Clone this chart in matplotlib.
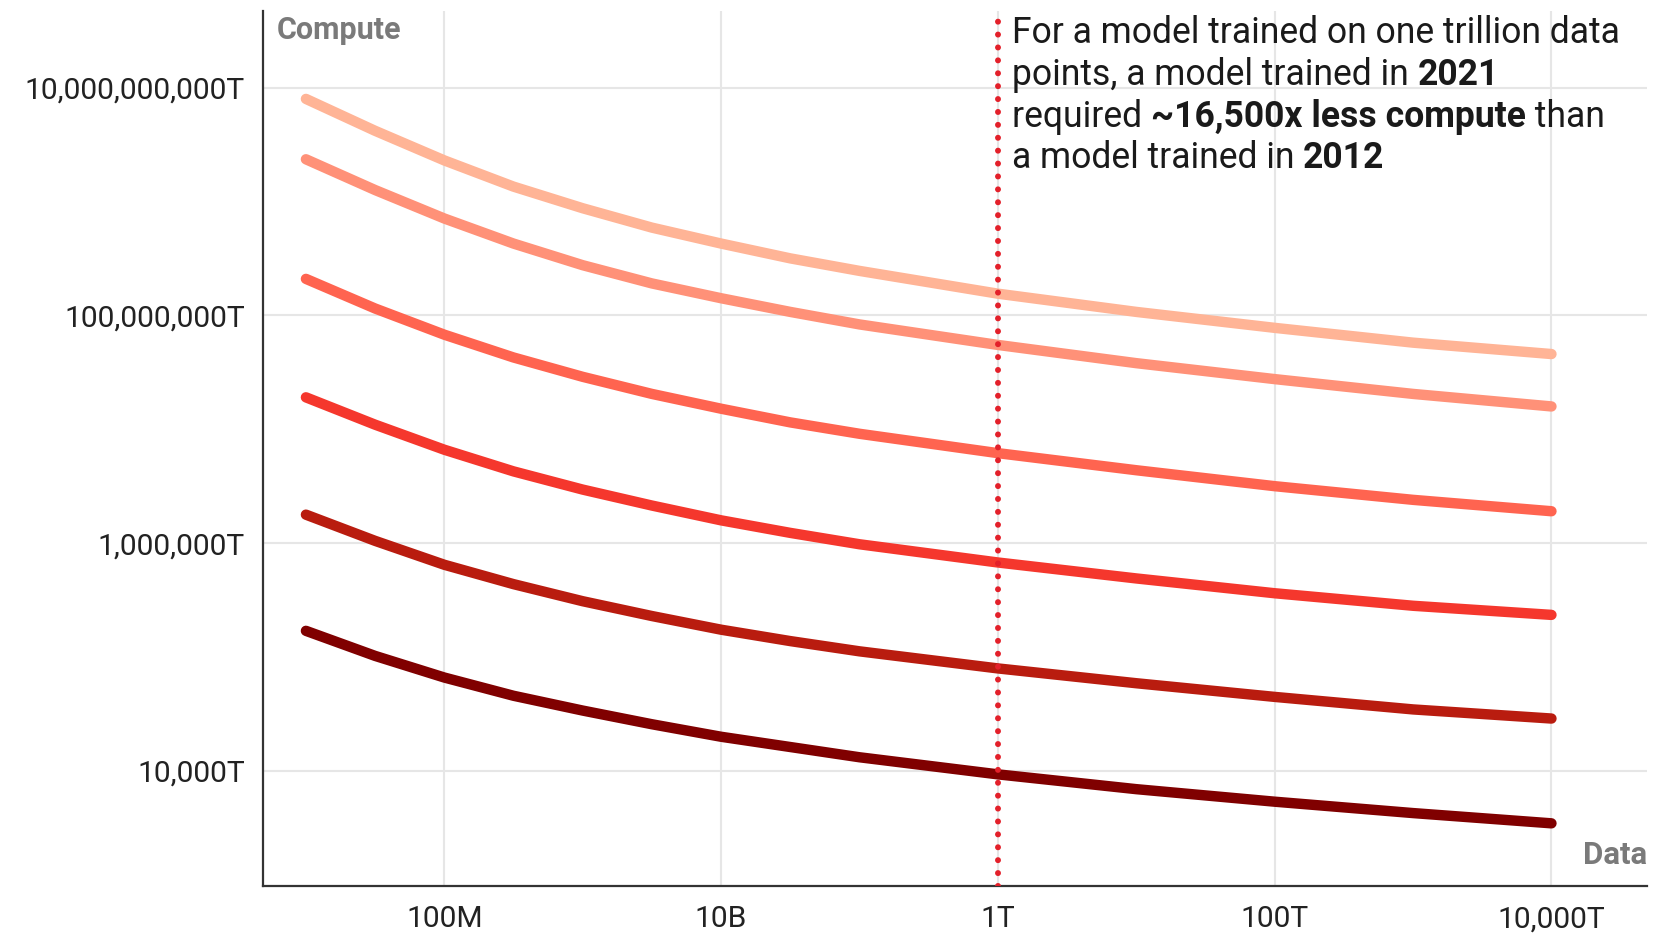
import numpy as np
import matplotlib.pyplot as plt
from matplotlib.transforms import IdentityTransform

plt.rcParams['font.family'] = ['Roboto', 'DejaVu Sans']

# data points on the x axis (one trillion = 1T = 1e12)
data_points = [1e7, 3.16e7, 1e8, 3.16e8, 1e9, 3.16e9, 1e10, 3.16e10, 1e11,
               1e12, 1e13, 1e14, 1e15, 1e16]

# compute needed, log10 of the value in "T" units
# top curve = oldest model (2012), bottom curve = newest (2021)
log_compute_1 = [9.90, 9.62, 9.36, 9.13, 8.94, 8.77, 8.63, 8.50, 8.39, 8.19, 8.03, 7.89, 7.76, 7.66]
log_compute_2 = [9.37, 9.10, 8.85, 8.63, 8.44, 8.28, 8.15, 8.03, 7.92, 7.74, 7.58, 7.44, 7.31, 7.20]
log_compute_3 = [8.32, 8.06, 7.83, 7.63, 7.46, 7.31, 7.18, 7.06, 6.96, 6.79, 6.64, 6.50, 6.38, 6.28]
log_compute_4 = [7.28, 7.04, 6.82, 6.63, 6.47, 6.33, 6.20, 6.09, 5.99, 5.83, 5.69, 5.56, 5.45, 5.37]
log_compute_5 = [6.25, 6.02, 5.81, 5.64, 5.49, 5.36, 5.24, 5.14, 5.05, 4.90, 4.77, 4.65, 4.54, 4.46]
log_compute_6 = [5.23, 5.01, 4.82, 4.66, 4.53, 4.41, 4.30, 4.21, 4.12, 3.97, 3.84, 3.73, 3.63, 3.54]

curve_colors = ['#FFB496', '#FF9178', '#FF6450', '#F5372D', '#B91C0F', '#800000']

x_tick_values = [1e8, 1e10, 1e12, 1e14, 1e16]
x_tick_labels = ['100M', '10B', '1T', '100T', '10,000T']
y_tick_values = [1e4, 1e6, 1e8, 1e10]
y_tick_labels = ['10,000T', '1,000,000T', '100,000,000T', '10,000,000,000T']

marker_x = 1e12


def draw_rich_line(fig, x0, y0, pieces, size, color):
    '''draw a line of text made of regular / bold pieces, in pixel coords'''
    renderer = fig.canvas.get_renderer()
    x = x0
    for txt, weight in pieces:
        fig.text(x, y0, txt, transform=IdentityTransform(), fontsize=size,
                 fontweight=weight, color=color, ha='left', va='baseline')
        # pipes around the piece so that edge spaces are counted
        t1 = fig.text(0, 0, '|' + txt + '|', fontsize=size, fontweight=weight)
        t2 = fig.text(0, 0, '||', fontsize=size, fontweight=weight)
        w = t1.get_window_extent(renderer).width - t2.get_window_extent(renderer).width
        t1.remove()
        t2.remove()
        x += w


fig = plt.figure(figsize=(16.7, 9.33), dpi=100)
ax = fig.add_axes([0.1575, 0.0504, 0.8287, 0.9376])

curves = [log_compute_1, log_compute_2, log_compute_3,
          log_compute_4, log_compute_5, log_compute_6]
for vals, c in zip(curves, curve_colors):
    ax.plot(data_points, 10 ** np.array(vals), color=c, lw=7.5,
            solid_capstyle='round', solid_joinstyle='round', zorder=3)

ax.axvline(marker_x, color='#E3202A', lw=4.3, linestyle=(0, (0.01, 2.15)),
           dash_capstyle='round', zorder=5)

ax.set_xscale('log')
ax.set_yscale('log')
ax.set_xlim(10 ** 6.69, 10 ** 16.69)
ax.set_ylim(10 ** 2.99, 10 ** 10.67)

ax.set_xticks(x_tick_values)
ax.set_xticklabels(x_tick_labels)
ax.set_yticks(y_tick_values)
ax.set_yticklabels(y_tick_labels)
ax.minorticks_off()
ax.tick_params(axis='both', length=0, labelsize=21.6, labelcolor='#222222')
ax.tick_params(axis='x', pad=14)
ax.tick_params(axis='y', pad=13)

ax.grid(True, color='#e6e6e6', lw=1.5, zorder=0)
ax.set_axisbelow(True)

for s in ['top', 'right']:
    ax.spines[s].set_visible(False)
for s in ['left', 'bottom']:
    ax.spines[s].set_color('#333333')
    ax.spines[s].set_linewidth(1.6)

ax.text(0.0101, 0.979, 'Compute', transform=ax.transAxes, fontsize=22,
        fontweight='bold', color='#7a7a7a', ha='left', va='center')
ax.text(1.0, 0.035, 'Data', transform=ax.transAxes, fontsize=22.5,
        fontweight='bold', color='#7a7a7a', ha='right', va='center')

# annotation next to the dotted line (pixel coords, origin bottom left)
H = 933
x0 = 1012
note_lines = [
    [('For a model trained on one trillion data', 'normal')],
    [('points, a model trained in ', 'normal'), ('2021', 'bold')],
    [('required ', 'normal'), ('~16,500x less compute', 'bold'), (' than', 'normal')],
    [('a model trained in ', 'normal'), ('2012', 'bold')],
]
baselines = [42.6, 85.2, 126.7, 168.3]
for pieces, b in zip(note_lines, baselines):
    draw_rich_line(fig, x0, H - b, pieces, 25.6, '#1a1a1a')

fig.savefig('out.png', dpi=100)
